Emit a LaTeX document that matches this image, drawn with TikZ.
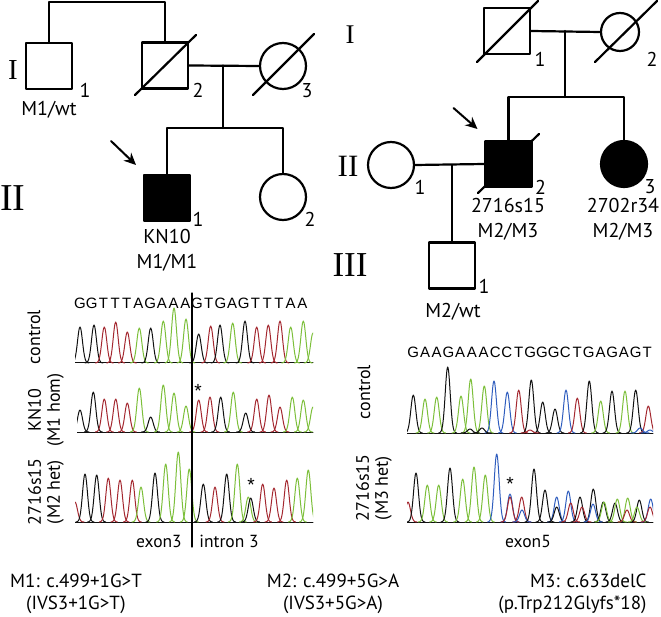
\documentclass[tikz,border=0pt]{standalone}
\usepackage{fontspec}
\setmainfont{Liberation Serif}
\setsansfont{PT Sans}
\newfontfamily\seqfont{Liberation Sans}
\usetikzlibrary{arrows.meta}

\definecolor{colA}{HTML}{7CBF3A}
\definecolor{colT}{HTML}{A42830}
\definecolor{colC}{HTML}{2F5DBE}
\definecolor{colG}{HTML}{111111}

\tikzset{
  pedline/.style={line width=2.2pt},
  male/.style={draw, pedline, minimum size=46pt, inner sep=0pt},
  female/.style={male, circle},
  affected/.style={fill=black},
  proband/.style={line width=2pt, -{Stealth[length=12pt,width=11pt]}},
  gen/.style={font=\fontsize{#1}{#1}\selectfont},
  idnum/.style={font=\sffamily\fontsize{20}{20}\selectfont},
  lbl/.style={font=\sffamily\fontsize{20}{25}\selectfont, align=center},
  rlbl/.style={font=\sffamily\fontsize{18}{19}\selectfont, align=center, rotate=90},
  region/.style={font=\sffamily\fontsize{17.5}{17.5}\selectfont},
  legend/.style={font=\sffamily\fontsize{19}{22}\selectfont, align=center},
  nuc/.style={font=\seqfont\fontsize{15}{15}\selectfont, anchor=base, inner sep=0pt},
  trace/.style={line width=1pt},
  star/.style={font=\seqfont\fontsize{19}{19}\selectfont, inner sep=0pt},
}

% one chromatogram: #1 baseline, #2 list of x/height/colour
\newcommand{\chromo}[2]{%
  \foreach \c in {colT,colC,colA,colG}
    \draw[trace,\c] (0,#1) -- (661,#1);
  \foreach \px/\ph/\pc in {#2}
    \draw[trace,\pc] plot[domain=\px-9:\px+9, samples=25, smooth]
      (\x,{#1-\ph*exp(-((\x-\px)/3.5)^2)});
}

\begin{document}
\begin{tikzpicture}[x=1pt, y=-1pt, line join=round, line cap=round]
  \useasboundingbox (0,0) rectangle (661,617);

  % left pedigree
  \node[male] (L1) at (49,66) {};
  \node[male] (L2) at (165,65.5) {};
  \node[female] (L3) at (283,66) {};
  \node[male,affected] (L4) at (167,198) {};
  \node[female] (L5) at (283,197) {};
  \coordinate (Ltop) at (107,2);
  \coordinate (Lsib) at (223,128);
  \draw[pedline] (L1.north) |- (Ltop) -| (L2.north);
  \draw[pedline] (L2.east) -- (L3.west);
  \draw[pedline] (L2.east -| Lsib) -- (Lsib);
  \draw[pedline] (L4.north) |- (Lsib) -| (L5.north);
  \draw[pedline] ([shift={(-30,29.5)}]L2.center) -- ([shift={(31,-30.5)}]L2.center);
  \draw[pedline] ([shift={(-30,29)}]L3.center) -- ([shift={(31,-32)}]L3.center);
  \draw[proband] ([shift={(-56,-57)}]L4.center) -- ([shift={(-31,-33)}]L4.center);

  \node[idnum] (nL1) at ([shift={(36,24)}]L1.center) {1};
  \node[idnum] (nL2) at ([shift={(33,25)}]L2.center) {2};
  \node[idnum] (nL3) at ([shift={(24,25)}]L3.center) {3};
  \node[idnum] (nL4) at ([shift={(31,21)}]L4.center) {1};
  \node[idnum] (nL5) at ([shift={(27,22)}]L5.center) {2};
  \node[lbl] (gL1) at (49,110) {M1/wt};
  \node[lbl] (gL4) at (167,250) {KN10\\M1/M1};
  \node[gen=29] (genLI) at (13,70) {I};
  \node[gen=38] (genLII) at (13,198) {II};

  % right pedigree
  \node[male] (R1) at (507,31) {};
  \node[female, minimum size=38pt] (R2) at (620,32) {};
  \node[female] (R3) at (391,165) {};
  \node[male,affected] (R4) at (508.5,164) {};
  \node[female,affected] (R5) at (624,164) {};
  \node[male] (R6) at (452,265.5) {};
  \coordinate (Rsib) at (565,97);
  \draw[pedline] (R1.east) -- (R2.west);
  \draw[pedline] (R1.east -| Rsib) -- (Rsib);
  \draw[pedline] (R4.north) |- (Rsib) -| (R5.north);
  \draw[pedline] (R3.east) -- (R4.west);
  \draw[pedline] (R3.east -| R6.north) -- (R6.north);
  \draw[pedline] ([shift={(-30,31)}]R1.center) -- ([shift={(31,-30)}]R1.center);
  \draw[pedline] ([shift={(-25,30)}]R2.center) -- ([shift={(37,-31)}]R2.center);
  \draw[pedline] ([shift={(-30.5,29)}]R4.center) -- ([shift={(30.5,-30)}]R4.center);
  \draw[proband] ([shift={(-55,-56)}]R4.center) -- ([shift={(-31,-35)}]R4.center);

  \node[idnum] (nR1) at ([shift={(33,28)}]R1.center) {1};
  \node[idnum] (nR2) at ([shift={(32,27)}]R2.center) {2};
  \node[idnum] (nR3) at ([shift={(29,22)}]R3.center) {1};
  \node[idnum] (nR4) at ([shift={(32,23)}]R4.center) {2};
  \node[idnum] (nR5) at ([shift={(26,23)}]R5.center) {3};
  \node[idnum] (nR6) at ([shift={(32,21)}]R6.center) {1};
  \node[lbl] (gR4) at (508,219) {2716s15\\M2/M3};
  \node[lbl] (gR5) at (623,219) {2702r34\\M2/M3};
  \node[lbl] (gR6) at (453,312) {M2/wt};
  \node[gen=27] (genRI) at (350,35) {I};
  \node[gen=31] (genRII) at (348,166) {II};
  \node[gen=35] (genRIII) at (350,265) {III};

  % exon 3 / intron 3 traces
  \foreach \b [count=\i] in {G,G,T,T,T,A,G,A,A,A,G,T,G,A,G,T,T,T,A,A}
    \node[nuc] (sl\i) at ({68.3+11.7*\i},309) {\b};
  \begin{scope}
    \clip (75,290) rectangle (313,366);
    \chromo{363}{80/36/colG, 94/38/colG, 104.3/36/colT, 115.7/41/colT, 127.3/31/colT,
      139.3/35/colA, 150.7/35/colG, 163.3/42/colA, 174/55/colA, 186/44/colA,
      198.7/29/colG, 210.7/37/colT, 220/38/colG, 232.7/40/colA, 245/42/colG,
      256.7/36/colT, 268.3/38/colT, 280/42/colT, 290.7/36/colA, 303.3/42/colA, 313/30/colA}
  \end{scope}
  \begin{scope}
    \clip (77,370) rectangle (313,435);
    \chromo{432}{80/22/colG, 93.3/40/colG, 104.3/33/colT, 115.7/33/colT, 127.3/29/colT,
      139.3/44/colA, 150.7/15/colG, 163.3/47/colA, 174/39/colA, 186/26/colA,
      198.7/32/colT, 210/35/colT, 220.7/35/colG, 233.3/40/colA, 245.7/19/colG,
      256.7/33/colT, 269/37/colT, 280/25/colT, 292.3/35/colA, 303.3/32/colA, 313/25/colA}
  \end{scope}
  \begin{scope}
    \clip (75,440) rectangle (313,525);
    \chromo{522}{75/20/colT, 85/48/colG, 96.7/47/colG, 108.3/44/colT, 120/42/colT, 132.3/42/colT,
      141/35/colA, 155/49/colG, 165.7/58/colA, 178.3/70/colA, 189.3/53/colA,
      203.3/38/colG, 215/35/colT, 226.7/48/colG, 237.3/58/colA, 248.3/25/colA,
      250.7/24/colG, 262.7/38/colT, 274/34/colT, 286.7/42/colT, 297.3/44/colA, 308.3/52/colA}
  \end{scope}
  \draw[line width=1.3pt] (192,293) -- (192,547);
  \node[star] (mL4) at (198,391) {*};
  \node[star] (mR4a) at (251,485) {*};
  \node[rlbl] (tL1) at (34,337) {control};
  \node[rlbl] (tL2) at (46,410) {KN10\\(M1 hom)};
  \node[rlbl] (tL3) at (46,492) {2716s15\\(M2 het)};
  \node[region] (ex3) at (159,541) {exon3};
  \node[region] (in3) at (229,541) {intron 3};

  % exon 5 traces
  \foreach \b [count=\i] in {G,A,A,G,A,A,A,C,C,T,G,G,G,C,T,G,A,G,A,G,T}
    \node[nuc] (sr\i) at ({401.6+11.7*\i},358) {\b};
  \begin{scope}
    \clip (407,360) rectangle (653,436);
    \chromo{433}{413.3/38/colG, 425/34/colA, 436.7/36/colA, 447.7/66/colG, 461/37/colA,
      470.7/54/colA, 484.3/47/colA, 494/52/colC, 507.3/41/colC, 518.7/43/colT,
      531.3/53/colG, 542.7/31/colG, 555/24/colG, 566/43/colC, 577.3/35/colT,
      589.3/52/colG, 600.7/32/colA, 612/42/colG, 625/42/colA, 635.7/43/colG, 648.3/27/colT,
      470/4/colG, 482/5/colG, 530/3/colT, 640/5/colC, 650/3/colC}
  \end{scope}
  \begin{scope}
    \clip (407,445) rectangle (653,525);
    \chromo{522}{408/20/colT, 416/49/colG, 427.3/37/colA, 438.7/37/colA, 450/54/colG,
      462.7/43/colA, 474/55/colA, 485.3/47/colA, 496.7/68/colC, 510/28/colC,
      510/25/colT, 521.7/25/colT, 522/12/colC, 534/53/colG, 545/32/colG,
      556.7/25/colC, 556.7/15/colG, 568.3/31/colC, 570.7/19/colT, 580/25/colG,
      582/15/colT, 593.3/33/colG, 593/18/colC, 603.3/20/colG, 604/20/colA,
      615/19/colG, 617.3/23/colA, 627.7/24/colA, 627/12/colT, 639.3/22/colG,
      637/15/colA, 650.7/23/colC, 650/15/colT}
  \end{scope}
  \node[star] (mR4b) at (510,484) {*};
  \node[rlbl] (tR1) at (364,392) {control};
  \node[rlbl] (tR2) at (374,488) {2716s15\\(M3 het)};
  \node[region] (ex5) at (528,541) {exon5};

  % mutation legend
  \node[legend] (m1) at (76,594) {M1: c.499+1G>T\\(IVS3+1G>T)};
  \node[legend] (m2) at (333,594) {M2: c.499+5G>A\\(IVS3+5G>A)};
  \node[legend, align=right, anchor=east] (m3) at (650,594) {M3: c.633delC\\(p.Trp212Glyfs*18)};
\end{tikzpicture}
\end{document}
